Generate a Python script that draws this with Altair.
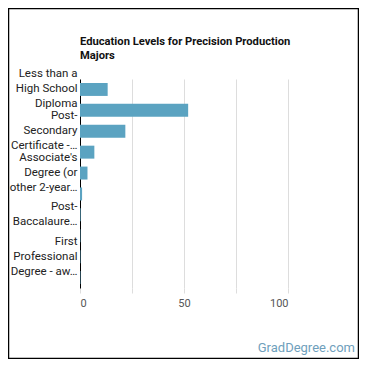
import altair as alt
import pandas as pd

categories = [
    "Less than a High School Diploma",
    "High School Diploma",
    "Post-Secondary Certificate",
    "Some College Courses",
    "Associate's Degree (or other 2-year degree)",
    "Bachelor's Degree",
    "Post-Baccalaureate Certificate",
    "Master's Degree",
    "First Professional Degree",
    "Doctoral Degree",
]
values = [13.3, 52.0, 21.8, 6.9, 3.6, 1.0, 0.3, 0.2, 0.2, 0.2]
display_lines = [
    ["Less than a", "High School", "Diploma"],
    [],
    ["Post-", "Secondary", "Certificate -…"],
    [],
    ["Associate's", "Degree (or", "other 2-year…"],
    [],
    ["Post-", "Baccalaure…"],
    [],
    ["First", "Professional", "Degree - aw…"],
    [],
]
x_ticks = [0, 25, 50, 75, 100]
title_text = "Education Levels for Precision Production\nMajors"
watermark = "GradDegree.com"

df = pd.DataFrame({"category": categories, "value": values})
one = pd.DataFrame({"k": [0]})

LH = 15

def q(s):
    return "'" + s.replace("'", "\\'") + "'"

# build label expression
expr = "''"
for cat, lines in reversed(list(zip(categories, display_lines))):
    arr = "[" + ",".join(q(l) for l in lines) + "]" if lines else "''"
    expr = f"datum.value == {q(cat)} ? {arr} : ({expr})"

two_line = [c for c, l in zip(categories, display_lines) if len(l) == 2]
offset_cond = {
    "condition": {"test": " || ".join(f"datum.value == {q(c)}" for c in two_line),
                  "value": -LH / 2},
    "value": -LH,
}

W, H = 208, 209
PL, PT, PR, PB = 72, 71, 71, 71

bars = alt.Chart(df).mark_bar(color="#5ba3c1").encode(
    x=alt.X("value:Q", scale=alt.Scale(domain=[0, 100], nice=False),
            axis=alt.Axis(values=x_ticks, title=None, grid=True, gridColor="#dddddd",
                          domain=False, tickColor="#dddddd", tickSize=5,
                          labelExpr="datum.value % 50 == 0 ? datum.label : ''",
                          labelColor="#555555", labelFontSize=11, labelPadding=4,
                          labelFont="Roboto")),
    y=alt.Y("category:N", sort=categories,
            scale=alt.Scale(paddingInner=0.38, paddingOuter=0.19),
            axis=alt.Axis(title=None, ticks=False, domainColor="#000000",
                          labelExpr=expr, labelFontSize=11.5, labelLineHeight=LH,
                          labelOffset=offset_cond,
                          labelColor="#222222", labelPadding=3, labelFont="Roboto",
                          labelLimit=100, labelOverlap=False)),
)

frame = alt.Chart(one).mark_rect(filled=False, stroke="#000000", strokeWidth=1.5).encode(
    x=alt.value(-PL + 0.5), x2=alt.value(W + PR - 0.5),
    y=alt.value(-PT + 0.5), y2=alt.value(H + PB - 0.5),
)

title = alt.Chart(one).mark_text(align="left", baseline="alphabetic", fontSize=11.2,
                                 fontWeight="bold", font="Roboto", color="#111111",
                                 lineBreak="\n", lineHeight=14,
                                 text=title_text).encode(
    x=alt.value(0), y=alt.value(-34),
)

wm = alt.Chart(one).mark_text(align="right", baseline="middle", fontSize=13,
                              fontWeight="normal", color="#6f9fbc", font="Roboto",
                              text=watermark).encode(
    x=alt.value(W + 67), y=alt.value(H + 60),
)

chart = alt.layer(bars, frame, title, wm).properties(
    width=W, height=H,
    autosize=alt.AutoSizeParams(type="none"),
    padding={"left": PL, "top": PT, "right": PR, "bottom": PB},
).configure_view(stroke=None)

chart.save("out.html", embed_options={"renderer": "svg", "actions": False})
